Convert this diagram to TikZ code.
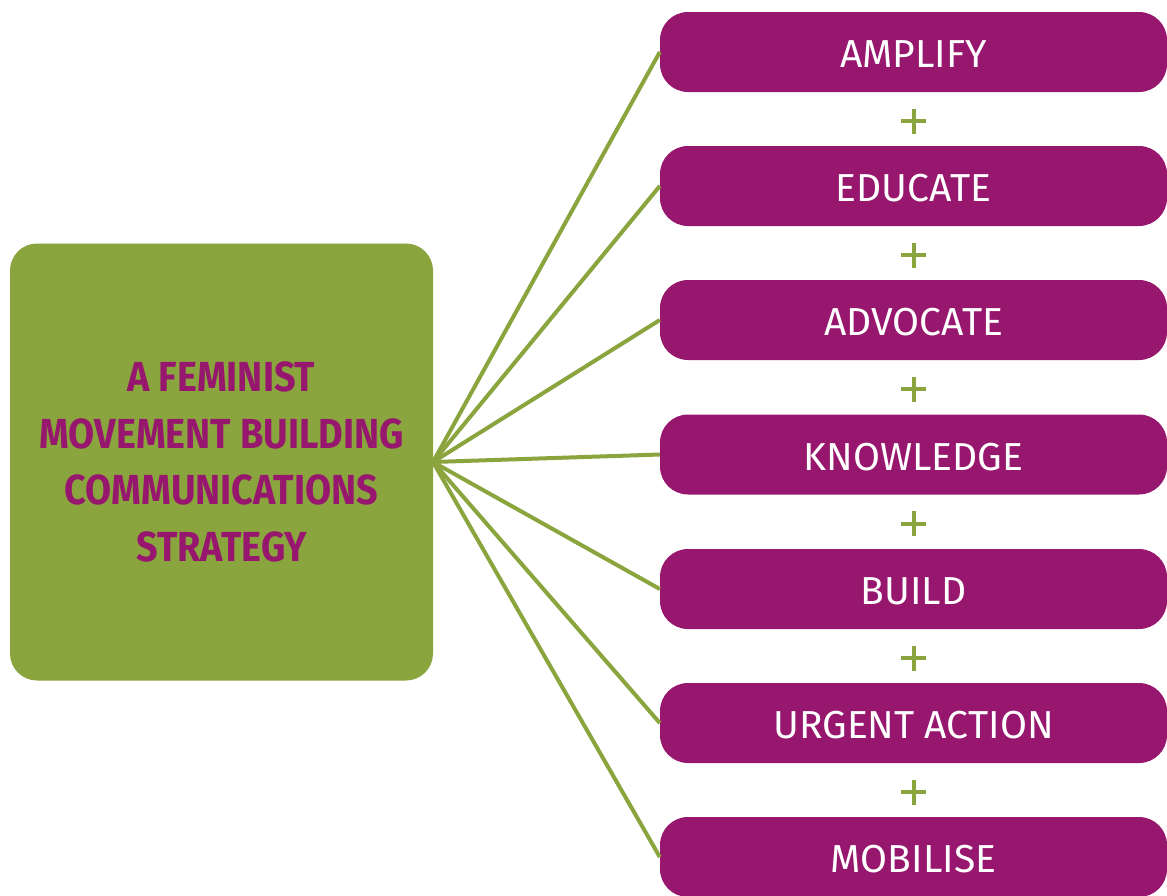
\documentclass[tikz,border=0pt]{standalone}
\usepackage{fontspec}
\setmainfont{Fira Sans}
\newfontfamily\titlefont[FakeStretch=0.9]{Fira Sans}
\usetikzlibrary{calc}
\definecolor{fempurple}{RGB}{151,22,110}
\definecolor{femgreen}{RGB}{138,164,62}
\tikzset{
  stepbox/.style={fill=fempurple, rounded corners=28pt, minimum width=507pt, minimum height=80pt,
    inner sep=0pt, text height=31pt, text depth=0pt, text=white, font=\fontsize{39}{44}\selectfont},
  plussign/.style={minimum size=25pt, inner sep=0pt,
    path picture={\draw[femgreen, line width=4pt]
      (path picture bounding box.north) -- (path picture bounding box.south)
      (path picture bounding box.west) -- (path picture bounding box.east);}},
  spoke/.style={draw=femgreen, line width=4pt}
}

\begin{document}
\begin{tikzpicture}[x=1pt, y=-1pt]
			%%%%% START %%%%%
			\useasboundingbox (0, 0) rectangle (1167, 895);
			
			\node[fill=femgreen, rounded corners=27pt, minimum width=423pt, minimum height=437pt,
			      inner sep=0pt, text=fempurple, align=center,
			      font=\titlefont\bfseries\fontsize{42}{56.5}\selectfont] (hub) at (221.5, 462)
			      {A FEMINIST\\MOVEMENT BUILDING\\COMMUNICATIONS\\STRATEGY};
			\coordinate (hubout) at (433, 462);
			
			\node[stepbox] (amplify) at (913.5, 52) {AMPLIFY};
			\node[stepbox] (educate) at (913.5, 186) {EDUCATE};
			\node[stepbox] (advocate) at (913.5, 320) {ADVOCATE};
			\node[stepbox] (knowledge) at (913.5, 454.5) {KNOWLEDGE};
			\node[stepbox] (build) at (913.5, 589) {BUILD};
			\node[stepbox] (urgent) at (913.5, 723) {URGENT ACTION};
			\node[stepbox] (mobilise) at (913.5, 857) {MOBILISE};
			
			\foreach \s/\t [count=\i] in {amplify/educate, educate/advocate, advocate/knowledge,
			                              knowledge/build, build/urgent, urgent/mobilise}
			  \node[plussign, yshift=-2pt] (plus\i) at ($(\s.south)!0.5!(\t.north)$) {};
			
			\foreach \s in {amplify, educate, advocate, knowledge, build, urgent, mobilise}
			  \draw[spoke] (hubout) -- (\s.west);
			%%%%% END %%%%%
		\end{tikzpicture}
\end{document}
